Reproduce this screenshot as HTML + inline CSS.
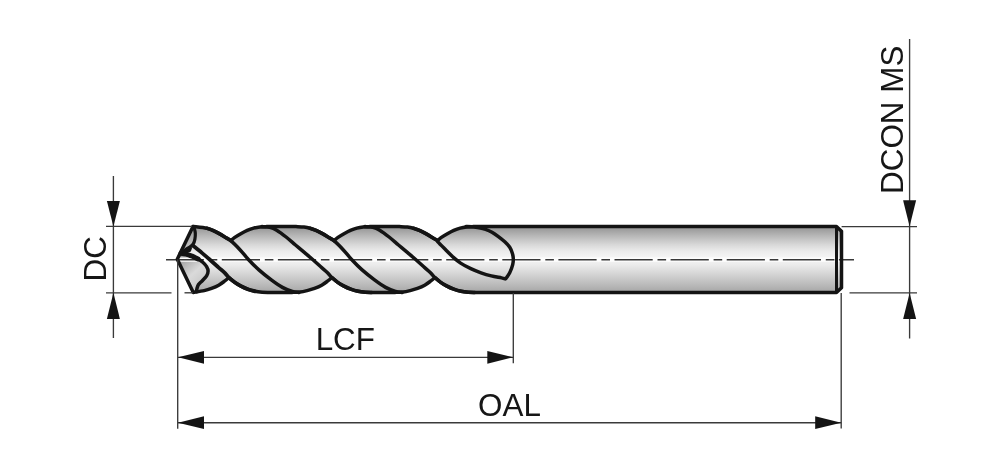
<!DOCTYPE html>
<html><head><meta charset="utf-8"><style>
html,body{margin:0;padding:0;background:#fff;}
svg{display:block;} svg{will-change:transform}
</style></head><body>
<svg width="1000" height="469" viewBox="0 0 1000 469">
<defs>
<linearGradient id="g" x1="0" y1="226" x2="0" y2="293" gradientUnits="userSpaceOnUse">
<stop offset="0" stop-color="#949494"/>
<stop offset="0.06" stop-color="#a0a0a0"/>
<stop offset="0.15" stop-color="#b8b8b8"/>
<stop offset="0.28" stop-color="#d8d8d8"/>
<stop offset="0.38" stop-color="#ececec"/>
<stop offset="0.48" stop-color="#f6f6f6"/>
<stop offset="0.58" stop-color="#ebebeb"/>
<stop offset="0.72" stop-color="#d4d4d4"/>
<stop offset="0.86" stop-color="#bdbdbd"/>
<stop offset="1" stop-color="#a4a4a4"/>
</linearGradient>
<linearGradient id="gf" x1="180" y1="258" x2="205" y2="285" gradientUnits="userSpaceOnUse">
<stop offset="0" stop-color="#9a9a9a"/>
<stop offset="0.55" stop-color="#dadada"/>
<stop offset="1" stop-color="#c4c4c4"/>
</linearGradient>
<linearGradient id="gt" x1="186" y1="230" x2="194" y2="248" gradientUnits="userSpaceOnUse">
<stop offset="0" stop-color="#9a9a9a"/>
<stop offset="1" stop-color="#c8c8c8"/>
</linearGradient>
</defs>
<rect width="1000" height="469" fill="#fff"/>
<path d="M177.30 259.20 L193.00 226.40 C195.30 226.70 203.50 227.53 206.80 228.20 C210.10 228.87 210.80 229.53 212.80 230.40 C214.80 231.27 216.80 232.32 218.80 233.40 C220.80 234.48 222.80 235.68 224.80 236.90 C226.80 238.12 229.80 240.07 230.80 240.70 C231.40 240.18 232.73 238.77 234.40 237.60 C236.07 236.43 238.67 234.90 240.80 233.70 C242.93 232.50 245.07 231.33 247.20 230.40 C249.33 229.47 251.47 228.68 253.60 228.10 C255.73 227.52 257.80 227.15 260.00 226.90 C262.20 226.65 265.67 226.65 266.80 226.60 L296.00 226.60 C297.33 226.67 301.67 226.73 304.00 227.00 C306.33 227.27 308.00 227.63 310.00 228.20 C312.00 228.77 314.00 229.53 316.00 230.40 C318.00 231.27 320.00 232.32 322.00 233.40 C324.00 234.48 326.00 235.68 328.00 236.90 C330.00 238.12 333.00 240.07 334.00 240.70 C334.60 240.18 335.93 238.77 337.60 237.60 C339.27 236.43 341.87 234.90 344.00 233.70 C346.13 232.50 348.27 231.33 350.40 230.40 C352.53 229.47 354.67 228.68 356.80 228.10 C358.93 227.52 361.00 227.15 363.20 226.90 C365.40 226.65 368.87 226.65 370.00 226.60 L399.40 226.60 C400.73 226.67 405.07 226.73 407.40 227.00 C409.73 227.27 411.40 227.63 413.40 228.20 C415.40 228.77 417.40 229.53 419.40 230.40 C421.40 231.27 423.40 232.32 425.40 233.40 C427.40 234.48 429.40 235.68 431.40 236.90 C433.40 238.12 436.40 240.07 437.40 240.70 C438.00 240.18 439.33 238.77 441.00 237.60 C442.67 236.43 445.27 234.90 447.40 233.70 C449.53 232.50 451.67 231.33 453.80 230.40 C455.93 229.47 458.07 228.68 460.20 228.10 C462.33 227.52 464.40 227.15 466.60 226.90 C468.80 226.65 472.27 226.65 473.40 226.60 L836.5 226.6 L841.5 231.2 L841.5 287.8 L836.5 292.4 L474.90 292.40 C473.78 292.37 470.52 292.38 468.20 292.20 C465.88 292.02 463.42 291.80 461.00 291.30 C458.58 290.80 456.12 290.10 453.70 289.20 C451.28 288.30 448.67 287.05 446.50 285.90 C444.33 284.75 442.63 283.68 440.70 282.30 C438.77 280.92 435.87 278.38 434.90 277.60 C434.17 278.20 432.20 279.93 430.50 281.20 C428.80 282.47 426.87 284.00 424.70 285.20 C422.53 286.40 419.92 287.50 417.50 288.40 C415.08 289.30 412.62 289.98 410.20 290.60 C407.78 291.22 405.55 291.80 403.00 292.10 C400.45 292.40 396.25 292.35 394.90 292.40 L371.90 292.40 C370.78 292.37 367.52 292.38 365.20 292.20 C362.88 292.02 360.42 291.80 358.00 291.30 C355.58 290.80 353.12 290.10 350.70 289.20 C348.28 288.30 345.67 287.05 343.50 285.90 C341.33 284.75 339.63 283.68 337.70 282.30 C335.77 280.92 332.87 278.38 331.90 277.60 C331.17 278.20 329.20 279.93 327.50 281.20 C325.80 282.47 323.87 284.00 321.70 285.20 C319.53 286.40 316.92 287.50 314.50 288.40 C312.08 289.30 309.62 289.98 307.20 290.60 C304.78 291.22 302.55 291.80 300.00 292.10 C297.45 292.40 293.25 292.35 291.90 292.40 L268.90 292.40 C267.78 292.37 264.52 292.38 262.20 292.20 C259.88 292.02 257.42 291.80 255.00 291.30 C252.58 290.80 250.12 290.10 247.70 289.20 C245.28 288.30 242.67 287.05 240.50 285.90 C238.33 284.75 236.63 283.68 234.70 282.30 C232.77 280.92 229.87 278.38 228.90 277.60 C228.17 278.20 226.20 279.93 224.50 281.20 C222.80 282.47 220.87 284.00 218.70 285.20 C216.53 286.40 213.92 287.50 211.50 288.40 C209.08 289.30 207.23 289.93 204.20 290.60 C201.17 291.27 195.12 292.10 193.30 292.40 Z" fill="url(#g)"/>
<path d="M177.30 259.20 L181 253.4 C181.83 253.53 184.17 253.72 186.00 254.20 C187.83 254.68 190.02 255.52 192.00 256.30 C193.98 257.08 196.10 257.90 197.90 258.90 C199.70 259.90 201.35 261.00 202.80 262.30 C204.25 263.60 205.72 265.23 206.60 266.70 C207.48 268.17 208.10 269.57 208.10 271.10 C208.10 272.63 207.57 274.30 206.60 275.90 C205.63 277.50 203.65 279.27 202.30 280.70 C200.95 282.13 199.38 283.22 198.50 284.50 C197.62 285.78 197.33 287.18 197.00 288.40 C196.67 289.62 196.58 291.23 196.50 291.80 L193.30 292.40 Z" fill="url(#gf)"/>
<path d="M193.00 226.40 C193.22 226.75 193.92 227.38 194.30 228.50 C194.68 229.62 195.20 231.33 195.30 233.10 C195.40 234.87 195.25 237.25 194.90 239.10 C194.55 240.95 193.98 242.93 193.20 244.20 C192.42 245.47 191.48 245.82 190.20 246.70 C188.92 247.58 186.28 249.03 185.50 249.50 L183.5 250.5 Z" fill="url(#gt)"/>
<line x1="178" y1="259.7" x2="842" y2="259.7" stroke="#fdfdfd" stroke-width="4.2"/>
<line x1="166" y1="259.7" x2="854" y2="259.7" stroke="#383838" stroke-width="1.6" stroke-dasharray="38.2 4.8 8.6 4.5" stroke-dashoffset="0.3"/>
<g fill="none" stroke="#141414" stroke-width="3.5" stroke-linejoin="round" stroke-linecap="round">
<path d="M206.80 228.20 C207.80 228.57 210.80 229.53 212.80 230.40 C214.80 231.27 216.80 232.32 218.80 233.40 C220.80 234.48 222.80 235.68 224.80 236.90 C226.80 238.12 228.20 238.48 230.80 240.70 C233.40 242.92 237.47 247.07 240.40 250.20 C243.33 253.33 245.32 256.22 248.40 259.50 C251.48 262.78 255.08 266.50 258.90 269.90 C262.72 273.30 267.38 276.98 271.30 279.90 C275.22 282.82 278.90 285.47 282.40 287.40 C285.90 289.33 289.57 290.67 292.30 291.50 C295.03 292.33 297.72 292.25 298.80 292.40"/><path d="M310.00 228.20 C311.00 228.57 314.00 229.53 316.00 230.40 C318.00 231.27 320.00 232.32 322.00 233.40 C324.00 234.48 326.00 235.68 328.00 236.90 C330.00 238.12 331.40 238.48 334.00 240.70 C336.60 242.92 340.67 247.07 343.60 250.20 C346.53 253.33 348.52 256.22 351.60 259.50 C354.68 262.78 358.28 266.50 362.10 269.90 C365.92 273.30 370.58 276.98 374.50 279.90 C378.42 282.82 382.10 285.47 385.60 287.40 C389.10 289.33 392.77 290.67 395.50 291.50 C398.23 292.33 400.92 292.25 402.00 292.40"/><path d="M413.40 228.20 C414.40 228.57 417.40 229.53 419.40 230.40 C421.40 231.27 423.40 232.32 425.40 233.40 C427.40 234.48 429.40 235.68 431.40 236.90 C433.40 238.12 436.28 239.83 437.40 240.70 C438.52 241.57 436.80 240.67 438.10 242.10 C439.40 243.53 442.65 246.75 445.20 249.30 C447.75 251.85 450.83 255.10 453.40 257.40 C455.97 259.70 457.70 261.22 460.60 263.10 C463.50 264.98 467.40 267.08 470.80 268.70 C474.20 270.32 477.58 271.60 481.00 272.80 C484.42 274.00 487.88 275.05 491.30 275.90 C494.72 276.75 499.12 277.40 501.50 277.90 C503.88 278.40 504.92 278.73 505.60 278.90 C506.28 277.88 508.52 275.18 509.70 272.80 C510.88 270.42 512.10 266.98 512.70 264.60 C513.30 262.22 513.35 260.35 513.30 258.50 C513.25 256.65 512.97 255.33 512.40 253.50 C511.83 251.67 511.17 249.45 509.90 247.50 C508.63 245.55 506.72 243.62 504.80 241.80 C502.88 239.98 500.53 238.20 498.40 236.60 C496.27 235.00 494.13 233.42 492.00 232.20 C489.87 230.98 487.73 230.05 485.60 229.30 C483.47 228.55 481.47 228.12 479.20 227.70 C476.93 227.28 474.20 226.98 472.00 226.80 C469.80 226.62 467.00 226.63 466.00 226.60"/><path d="M261.90 226.60 C263.23 226.72 267.43 226.70 269.90 227.30 C272.37 227.90 274.00 228.58 276.70 230.20 C279.40 231.82 282.97 234.53 286.10 237.00 C289.23 239.47 292.37 242.35 295.50 245.00 C298.63 247.65 302.08 250.52 304.90 252.90 C307.72 255.28 309.60 256.85 312.40 259.30 C315.20 261.75 319.18 265.37 321.70 267.60 C324.22 269.83 325.80 271.03 327.50 272.70 C329.20 274.37 330.20 276.00 331.90 277.60 C333.60 279.20 335.77 280.92 337.70 282.30 C339.63 283.68 341.33 284.75 343.50 285.90 C345.67 287.05 348.28 288.30 350.70 289.20 C353.12 290.10 355.58 290.80 358.00 291.30 C360.42 291.80 362.88 292.02 365.20 292.20 C367.52 292.38 370.78 292.37 371.90 292.40"/><path d="M364.90 226.60 C366.23 226.72 370.43 226.70 372.90 227.30 C375.37 227.90 377.00 228.58 379.70 230.20 C382.40 231.82 385.97 234.53 389.10 237.00 C392.23 239.47 395.37 242.35 398.50 245.00 C401.63 247.65 405.08 250.52 407.90 252.90 C410.72 255.28 412.60 256.85 415.40 259.30 C418.20 261.75 422.18 265.37 424.70 267.60 C427.22 269.83 428.80 271.03 430.50 272.70 C432.20 274.37 433.20 276.00 434.90 277.60 C436.60 279.20 438.77 280.92 440.70 282.30 C442.63 283.68 444.33 284.75 446.50 285.90 C448.67 287.05 451.28 288.30 453.70 289.20 C456.12 290.10 458.58 290.80 461.00 291.30 C463.42 291.80 465.88 292.02 468.20 292.20 C470.52 292.38 473.78 292.37 474.90 292.40"/>
<path d="M192.60 245.30 C194.15 246.57 199.10 250.57 201.90 252.90 C204.70 255.23 206.60 256.85 209.40 259.30 C212.20 261.75 216.18 265.37 218.70 267.60 C221.22 269.83 222.80 271.03 224.50 272.70 C226.20 274.37 227.20 276.00 228.90 277.60 C230.60 279.20 232.77 280.92 234.70 282.30 C236.63 283.68 238.33 284.75 240.50 285.90 C242.67 287.05 245.28 288.30 247.70 289.20 C250.12 290.10 253.78 290.95 255.00 291.30" stroke-width="3.8"/>
<path d="M181.00 253.40 C181.83 253.53 184.17 253.72 186.00 254.20 C187.83 254.68 190.02 255.52 192.00 256.30 C193.98 257.08 196.10 257.90 197.90 258.90 C199.70 259.90 201.35 261.00 202.80 262.30 C204.25 263.60 205.72 265.23 206.60 266.70 C207.48 268.17 208.10 269.57 208.10 271.10 C208.10 272.63 207.57 274.30 206.60 275.90 C205.63 277.50 203.65 279.27 202.30 280.70 C200.95 282.13 199.38 283.22 198.50 284.50 C197.62 285.78 197.33 287.18 197.00 288.40 C196.67 289.62 196.58 291.23 196.50 291.80"/>
<path d="M181 253.2 L186 254 L192 256.1 L198 258.9" stroke-width="5"/>
<path d="M181.5 251 L186 249.6 L191 248.2 L190 250.8 L186.5 252 Z" fill="#141414" stroke-width="2"/>
<path d="M193.00 226.40 C193.22 226.75 193.92 227.38 194.30 228.50 C194.68 229.62 195.20 231.33 195.30 233.10 C195.40 234.87 195.25 237.25 194.90 239.10 C194.55 240.95 193.98 242.93 193.20 244.20 C192.42 245.47 191.48 245.82 190.20 246.70 C188.92 247.58 186.28 249.03 185.50 249.50" stroke-width="3.2"/>
<path d="M177.30 259.20 L193.00 226.40 C195.30 226.70 203.50 227.53 206.80 228.20 C210.10 228.87 210.80 229.53 212.80 230.40 C214.80 231.27 216.80 232.32 218.80 233.40 C220.80 234.48 222.80 235.68 224.80 236.90 C226.80 238.12 229.80 240.07 230.80 240.70 C231.40 240.18 232.73 238.77 234.40 237.60 C236.07 236.43 238.67 234.90 240.80 233.70 C242.93 232.50 245.07 231.33 247.20 230.40 C249.33 229.47 251.47 228.68 253.60 228.10 C255.73 227.52 257.80 227.15 260.00 226.90 C262.20 226.65 265.67 226.65 266.80 226.60 L296.00 226.60 C297.33 226.67 301.67 226.73 304.00 227.00 C306.33 227.27 308.00 227.63 310.00 228.20 C312.00 228.77 314.00 229.53 316.00 230.40 C318.00 231.27 320.00 232.32 322.00 233.40 C324.00 234.48 326.00 235.68 328.00 236.90 C330.00 238.12 333.00 240.07 334.00 240.70 C334.60 240.18 335.93 238.77 337.60 237.60 C339.27 236.43 341.87 234.90 344.00 233.70 C346.13 232.50 348.27 231.33 350.40 230.40 C352.53 229.47 354.67 228.68 356.80 228.10 C358.93 227.52 361.00 227.15 363.20 226.90 C365.40 226.65 368.87 226.65 370.00 226.60 L399.40 226.60 C400.73 226.67 405.07 226.73 407.40 227.00 C409.73 227.27 411.40 227.63 413.40 228.20 C415.40 228.77 417.40 229.53 419.40 230.40 C421.40 231.27 423.40 232.32 425.40 233.40 C427.40 234.48 429.40 235.68 431.40 236.90 C433.40 238.12 436.40 240.07 437.40 240.70 C438.00 240.18 439.33 238.77 441.00 237.60 C442.67 236.43 445.27 234.90 447.40 233.70 C449.53 232.50 451.67 231.33 453.80 230.40 C455.93 229.47 458.07 228.68 460.20 228.10 C462.33 227.52 464.40 227.15 466.60 226.90 C468.80 226.65 472.27 226.65 473.40 226.60 L836.5 226.6 L841.5 231.2 L841.5 287.8 L836.5 292.4 L474.90 292.40 C473.78 292.37 470.52 292.38 468.20 292.20 C465.88 292.02 463.42 291.80 461.00 291.30 C458.58 290.80 456.12 290.10 453.70 289.20 C451.28 288.30 448.67 287.05 446.50 285.90 C444.33 284.75 442.63 283.68 440.70 282.30 C438.77 280.92 435.87 278.38 434.90 277.60 C434.17 278.20 432.20 279.93 430.50 281.20 C428.80 282.47 426.87 284.00 424.70 285.20 C422.53 286.40 419.92 287.50 417.50 288.40 C415.08 289.30 412.62 289.98 410.20 290.60 C407.78 291.22 405.55 291.80 403.00 292.10 C400.45 292.40 396.25 292.35 394.90 292.40 L371.90 292.40 C370.78 292.37 367.52 292.38 365.20 292.20 C362.88 292.02 360.42 291.80 358.00 291.30 C355.58 290.80 353.12 290.10 350.70 289.20 C348.28 288.30 345.67 287.05 343.50 285.90 C341.33 284.75 339.63 283.68 337.70 282.30 C335.77 280.92 332.87 278.38 331.90 277.60 C331.17 278.20 329.20 279.93 327.50 281.20 C325.80 282.47 323.87 284.00 321.70 285.20 C319.53 286.40 316.92 287.50 314.50 288.40 C312.08 289.30 309.62 289.98 307.20 290.60 C304.78 291.22 302.55 291.80 300.00 292.10 C297.45 292.40 293.25 292.35 291.90 292.40 L268.90 292.40 C267.78 292.37 264.52 292.38 262.20 292.20 C259.88 292.02 257.42 291.80 255.00 291.30 C252.58 290.80 250.12 290.10 247.70 289.20 C245.28 288.30 242.67 287.05 240.50 285.90 C238.33 284.75 236.63 283.68 234.70 282.30 C232.77 280.92 229.87 278.38 228.90 277.60 C228.17 278.20 226.20 279.93 224.50 281.20 C222.80 282.47 220.87 284.00 218.70 285.20 C216.53 286.40 213.92 287.50 211.50 288.40 C209.08 289.30 207.23 289.93 204.20 290.60 C201.17 291.27 195.12 292.10 193.30 292.40 Z"/>
<line x1="836.5" y1="228" x2="836.5" y2="291" stroke-width="3"/>
</g>
<g stroke="#3a3a3a" stroke-width="1.35" fill="none">
<line x1="113.4" y1="176" x2="113.4" y2="338"/>
<line x1="106" y1="226.4" x2="192" y2="226.4"/>
<line x1="106" y1="292.8" x2="171.5" y2="292.8"/>
<line x1="184.5" y1="292.8" x2="193" y2="292.8"/>
<line x1="177.7" y1="259.4" x2="177.7" y2="428.7"/>
<line x1="513.3" y1="293" x2="513.3" y2="363.2"/>
<line x1="841.2" y1="293" x2="841.2" y2="428.6"/>
<line x1="178" y1="357.3" x2="513.3" y2="357.3"/>
<line x1="178" y1="422.7" x2="841.2" y2="422.7"/>
<line x1="909.6" y1="39" x2="909.6" y2="338.5"/>
<line x1="841.6" y1="226.6" x2="917" y2="226.6"/>
<line x1="849.5" y1="292.9" x2="917" y2="292.9"/>
</g>
<g fill="#141414">
<polygon points="113.4,226.4 106.9,201 119.9,201"/>
<polygon points="113.4,292.8 106.9,319 119.9,319"/>
<polygon points="178,357.3 204,350.9 204,363.7"/>
<polygon points="513.3,357.3 487.3,350.9 487.3,363.7"/>
<polygon points="178,422.7 204,416.3 204,429.1"/>
<polygon points="841.2,422.7 815.2,416.3 815.2,429.1"/>
<polygon points="909.6,226.6 903.1,200.2 916.1,200.2"/>
<polygon points="909.6,292.9 903.1,319.1 916.1,319.1"/>
</g>
<g font-family="'Liberation Sans', sans-serif" font-size="31.4" fill="#161616">
<text x="345.3" y="350.2" text-anchor="middle">LCF</text>
<text x="509.5" y="415.6" text-anchor="middle">OAL</text>
<text transform="translate(106.0 258.8) rotate(-90)" text-anchor="middle">DC</text>
<text transform="translate(903.4 119.8) rotate(-90)" text-anchor="middle">DCON MS</text>
</g>
</svg>
</body></html>
